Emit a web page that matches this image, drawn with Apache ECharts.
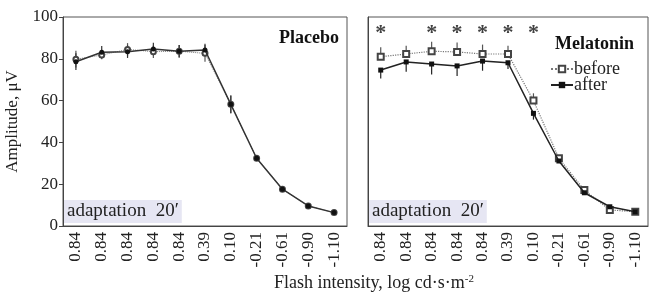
<!DOCTYPE html>
<html><head><meta charset="utf-8">
<script src="https://cdn.jsdelivr.net/npm/echarts@6/dist/echarts.min.js"></script>
<style>html,body{margin:0;padding:0;background:#fff}#c{width:650px;height:294px}</style>
</head><body><div id="c"></div>
<script>
var tickLabels = ['0.84','0.84','0.84','0.84','0.84','0.39','0.10','-0.21','-0.61','-0.90','-1.10'];
var yTicks = [0,20,40,60,80,100];
// Placebo
var placeboOpen   = [79.8, 81.8, 84.5, 83.4, 83.6, 82.6, 58.2, 32.4, 17.6, 9.6, 6.4];
var placeboFilled = [78.6, 83.1, 83.4, 84.7, 83.6, 84.2, 58.2, 32.4, 17.6, 9.6, 6.4];
var placeboOpenErr   = [4, 2, 3, 3, 3, 4, 4.3, 1, 1, 0.5, 0.5];
var placeboFilledErr = [4, 3, 3, 3, 3, 3, 4.3, 1, 1, 0.5, 0.5];
// Melatonin
var melBefore = [81.0, 82.3, 83.6, 83.3, 82.3, 82.3, 60.0, 32.4, 17.2, 7.7, 6.8];
var melAfter  = [74.6, 78.5, 77.5, 76.6, 78.9, 78.1, 53.9, 31.1, 15.9, 9.2, 6.8];
var melBeforeErrUp  = [4.5, 4, 4.5, 4.5, 4.5, 4, 3.5, 1, 1, 0.5, 0.5];
var melAfterErrDown = [4, 4.7, 5, 4.8, 4.6, 3, 3, 1, 1, 0.5, 0.5];
var starCats = [0, 2, 3, 4, 5, 6];
var starLevel = 94;

var cats = tickLabels.map(function(_, i){ return String(i); });
var serif = 'Liberation Serif';
var axisCol = '#444';
var txtCol = '#222';

function errData(vals, up, down) {
  return vals.map(function(v, i){ return [i, v - (down ? down[i] : 0), v + (up ? up[i] : 0)]; });
}
function errSeries(name, x, y, data, color) {
  return {
    type: 'custom', name: name, xAxisIndex: x, yAxisIndex: y, z: 1, silent: true,
    renderItem: function(params, api){
      var p1 = api.coord([api.value(0), api.value(1)]);
      var p2 = api.coord([api.value(0), api.value(2)]);
      return { type: 'line', shape: {x1: p1[0], y1: p1[1], x2: p2[0], y2: p2[1]},
               style: {stroke: color, lineWidth: 1.2} };
    },
    encode: {x: 0, y: [1, 2]},
    data: data
  };
}
function xAxis(gi) {
  return {
    type: 'category', gridIndex: gi, data: cats, boundaryGap: true,
    axisLine: {lineStyle: {color: axisCol, width: 1}},
    axisTick: {alignWithLabel: true, length: 5, lineStyle: {color: axisCol}},
    axisLabel: {rotate: 90, fontFamily: serif, fontSize: 17, color: txtCol, margin: 6,
      formatter: function(v){ return tickLabels[+v]; }}
  };
}

var chart = echarts.init(document.getElementById('c'));
chart.setOption({
  animation: false,
  grid: [
    {left: 63, top: 17, width: 284, height: 209, show: true, borderColor: '#555', borderWidth: 1, backgroundColor: 'transparent'},
    {left: 368, top: 17, width: 280, height: 209, show: true, borderColor: '#555', borderWidth: 1, backgroundColor: 'transparent'}
  ],
  xAxis: [xAxis(0), xAxis(1)],
  yAxis: [
    {type: 'value', gridIndex: 0, min: 0, max: 100, interval: 20,
     name: 'Amplitude, μV', nameLocation: 'middle', nameGap: 42,
     nameTextStyle: {fontFamily: serif, fontSize: 17, color: txtCol},
     axisLine: {show: true, lineStyle: {color: axisCol}},
     axisTick: {show: true, length: 4, lineStyle: {color: axisCol}},
     splitLine: {show: false},
     axisLabel: {fontFamily: serif, fontSize: 17, color: txtCol, margin: 5}},
    {type: 'value', gridIndex: 1, min: 0, max: 100, interval: 20,
     axisLine: {show: true, lineStyle: {color: axisCol}},
     axisTick: {show: false}, axisLabel: {show: false}, splitLine: {show: false}}
  ],
  legend: {
    data: ['before', 'after'], orient: 'vertical', left: 545, top: 55, itemGap: -2,
    itemWidth: 22, itemHeight: 8,
    textStyle: {fontFamily: serif, fontSize: 18, color: txtCol, padding: [0,0,0,-4]}
  },
  series: [
    errSeries('e1', 0, 0, errData(placeboOpen, placeboOpenErr, placeboOpenErr), '#555'),
    errSeries('e2', 0, 0, errData(placeboFilled, placeboFilledErr, placeboFilledErr), '#333'),
    errSeries('e3', 1, 1, errData(melBefore, melBeforeErrUp, null), '#555'),
    errSeries('e4', 1, 1, errData(melAfter, null, melAfterErrDown), '#222'),
    {type: 'line', name: 'placebo open', xAxisIndex: 0, yAxisIndex: 0, data: placeboOpen, z: 3,
     symbol: 'emptyCircle', symbolSize: 5, lineStyle: {color: '#777', width: 1, type: 'dotted'},
     itemStyle: {color: '#444', borderWidth: 1}},
    {type: 'line', name: 'placebo filled', xAxisIndex: 0, yAxisIndex: 0, data: placeboFilled, z: 4,
     symbol: 'circle', symbolSize: 5, lineStyle: {color: '#333', width: 1.5},
     itemStyle: {color: '#111'}},
    {type: 'line', name: 'before', xAxisIndex: 1, yAxisIndex: 1, data: melBefore, z: 3,
     symbol: 'emptyRect', symbolSize: 6, lineStyle: {color: '#777', width: 1.2, type: 'dotted'},
     itemStyle: {color: '#444', borderWidth: 1}},
    {type: 'line', name: 'after', xAxisIndex: 1, yAxisIndex: 1, data: melAfter, z: 4,
     symbol: 'rect', symbolSize: 5, lineStyle: {color: '#222', width: 1.5},
     itemStyle: {color: '#111'}},
    {type: 'scatter', name: 'stars', xAxisIndex: 1, yAxisIndex: 1, symbolSize: 0, silent: true,
     data: starCats.map(function(c){ return [String(c), starLevel]; }),
     label: {show: true, position: 'inside', formatter: '*', fontFamily: serif, fontSize: 22,
             fontWeight: 'bold', color: '#111', offset: [0, 4]}}
  ],
  graphic: [
    {type: 'text', left: 279, top: 29, style: {text: 'Placebo', font: 'bold 18px "Liberation Serif"', fill: '#111'}},
    {type: 'text', left: 555, top: 35, style: {text: 'Melatonin', font: 'bold 18px "Liberation Serif"', fill: '#111'}},
    {type: 'text', left: 64, top: 200, style: {text: "adaptation  20′", font: '19px "Liberation Serif"', fill: '#222',
      backgroundColor: '#e6e6f3', padding: [2, 3, 2, 3]}},
    {type: 'text', left: 369, top: 200, style: {text: "adaptation  20′", font: '19px "Liberation Serif"', fill: '#222',
      backgroundColor: '#e6e6f3', padding: [2, 3, 2, 3]}},
    {type: 'text', left: 274, top: 274, style: {
      text: '{a|Flash intensity, log cd·s·m}{s|-2}',
      rich: {a: {font: '18px "Liberation Serif"', fill: '#222', verticalAlign: 'bottom'},
             s: {font: '11px "Liberation Serif"', fill: '#222', verticalAlign: 'top'}}}}
  ]
});
</script></body></html>
